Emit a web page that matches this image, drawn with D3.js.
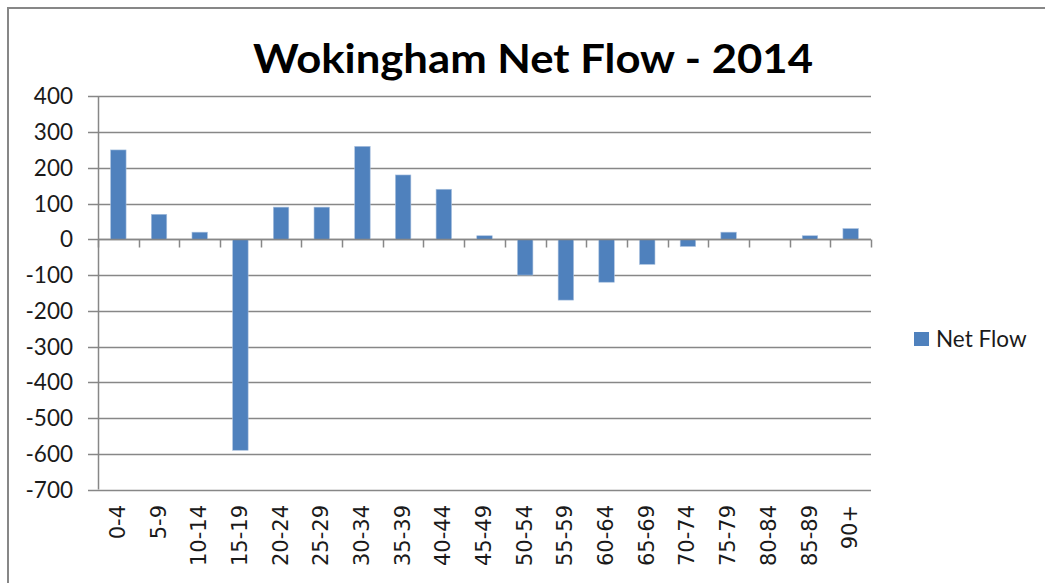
<!DOCTYPE html>
<html>
<head>
<meta charset="utf-8">
<script src="https://cdn.jsdelivr.net/npm/d3@7"></script>
<style>
  html, body { margin: 0; padding: 0; background: #ffffff; }
  svg { display: block; }
</style>
</head>
<body>
<svg id="chart" width="1045" height="583"></svg>
<script>
const categories = ["0-4","5-9","10-14","15-19","20-24","25-29","30-34","35-39","40-44","45-49","50-54","55-59","60-64","65-69","70-74","75-79","80-84","85-89","90+"];
const netFlow = [250, 70, 20, -590, 90, 90, 260, 180, 140, 10, -100, -170, -120, -70, -20, 20, 0, 10, 30];
const yTicks = [400, 300, 200, 100, 0, -100, -200, -300, -400, -500, -600, -700];
const titleText = "Wokingham Net Flow - 2014";
const seriesName = "Net Flow";

const svg = d3.select("#chart");
const W = 1045, H = 583;
const plot = { left: 98, right: 871, top: 96.3, bottom: 489.6 };
const gray = "#878787";
const barColor = "#4F81BD";
const font = "Lato, 'Open Sans', 'DejaVu Sans', sans-serif";
const xFont = "'DejaVu Sans', Verdana, sans-serif";

// outer chart border
svg.append("rect")
  .attr("x", 8).attr("y", 8)
  .attr("width", W + 20).attr("height", H + 20)
  .attr("fill", "none").attr("stroke", gray).attr("stroke-width", 2);

const x = d3.scaleBand().domain(categories).range([plot.left, plot.right]).padding(0);
const y = d3.scaleLinear().domain([-700, 400]).range([plot.bottom, plot.top]);

// gridlines
svg.append("g").selectAll("line").data(yTicks).join("line")
  .attr("x1", plot.left - 10).attr("x2", plot.right)
  .attr("y1", d => Math.round(y(d)) + 0.5).attr("y2", d => Math.round(y(d)) + 0.5)
  .attr("stroke", gray).attr("stroke-width", 1.3);

// y axis line
svg.append("line")
  .attr("x1", plot.left + 0.5).attr("x2", plot.left + 0.5)
  .attr("y1", plot.top).attr("y2", plot.bottom)
  .attr("stroke", gray).attr("stroke-width", 1.5);

// y tick labels
svg.append("g").selectAll("text").data(yTicks).join("text")
  .attr("x", 73).attr("y", d => y(d))
  .attr("dy", "0.36em")
  .attr("text-anchor", "end")
  .attr("font-family", font).attr("font-size", 22.5)
  .attr("fill", "#1a1a1a")
  .text(d => d);

// bars
const bw = x.bandwidth() * 0.38;
svg.append("g").selectAll("rect").data(categories).join("rect")
  .attr("x", (c) => x(c) + x.bandwidth() / 2 - bw / 2)
  .attr("width", bw)
  .attr("y", (c, i) => y(Math.max(0, netFlow[i])))
  .attr("height", (c, i) => Math.abs(y(netFlow[i]) - y(0)))
  .attr("fill", barColor)
  .attr("stroke", "#a9c0de").attr("stroke-width", 0.6);

// x axis line at zero
const y0 = Math.round(y(0)) + 0.5;
svg.append("line")
  .attr("x1", plot.left).attr("x2", plot.right)
  .attr("y1", y0).attr("y2", y0)
  .attr("stroke", gray).attr("stroke-width", 1.5);

// x tick marks at category boundaries
const bounds = categories.map(c => x(c)).concat([plot.right]);
svg.append("g").selectAll("line").data(bounds).join("line")
  .attr("x1", d => Math.round(d) + 0.5).attr("x2", d => Math.round(d) + 0.5)
  .attr("y1", y0).attr("y2", y0 + 8)
  .attr("stroke", gray).attr("stroke-width", 1.5);

// x labels (rotated)
svg.append("g").selectAll("text").data(categories).join("text")
  .attr("transform", c => `translate(${x(c) + x.bandwidth() / 2 - 1},505) rotate(-90)`)
  .attr("dy", "0.36em")
  .attr("text-anchor", "end")
  .attr("font-family", xFont).attr("font-size", 21)
  .attr("fill", "#1a1a1a")
  .text(c => c);

// title
svg.append("text")
  .attr("x", 253).attr("y", 73)
  .attr("font-family", font).attr("font-weight", 700).attr("font-size", 41)
  .attr("textLength", 560).attr("lengthAdjust", "spacingAndGlyphs")
  .attr("fill", "#000")
  .text(titleText);

// legend
svg.append("rect")
  .attr("x", 914).attr("y", 332).attr("width", 15).attr("height", 14)
  .attr("fill", barColor);
svg.append("text")
  .attr("x", 936).attr("y", 346.5)
  .attr("font-family", font).attr("font-size", 22.5)
  .attr("fill", "#1a1a1a")
  .text(seriesName);
</script>
</body>
</html>
